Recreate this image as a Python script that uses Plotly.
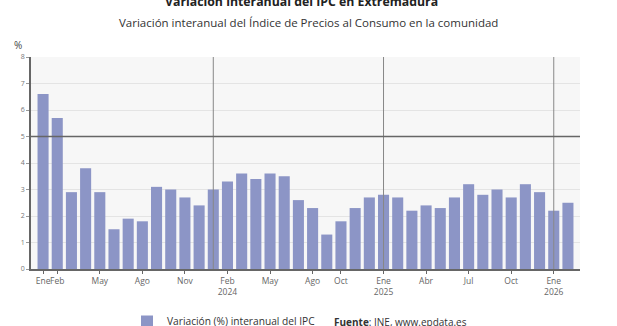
import plotly.graph_objects as go

months = ["Ene","Feb","Mar","Abr","May","Jun","Jul","Ago","Sep","Oct","Nov","Dic"]
years = [2023, 2024, 2025, 2026]
values = [6.6, 5.7, 2.9, 3.8, 2.9, 1.5, 1.9, 1.8, 3.1, 3.0, 2.7, 2.4,
          3.0, 3.3, 3.6, 3.4, 3.6, 3.5, 2.6, 2.3, 1.3, 1.8, 2.3, 2.7,
          2.8, 2.7, 2.2, 2.4, 2.3, 2.7, 3.2, 2.8, 3.0, 2.7, 3.2, 2.9,
          2.2, 2.5]
labels = [f"{months[i % 12]} {years[i // 12]}" for i in range(len(values))]
tick_idx = [0, 1, 4, 7, 10, 13, 16, 19, 21, 24, 27, 30, 33, 36]
tick_text = ["Ene", "Feb", "May", "Ago", "Nov", "Feb<br>2024", "May", "Ago", "Oct",
             "Ene<br>2025", "Abr", "Jul", "Oct", "Ene<br>2026"]
year_breaks = [12, 24, 36]
ref_level = 5
ymax = 8

# plot area in pixels
L, R, T, B = 31, 580, 57, 269
W, H = R - L, B - T
def px(xp): return (xp - L) / W
def py(yp): return (B - yp) / H

x = list(range(len(values)))
fig = go.Figure()
fig.add_trace(go.Bar(x=x, y=values, name="Variación (%) interanual del IPC",
                     marker=dict(color="#8c95c6", line=dict(width=0)),
                     width=0.78, hovertext=labels, showlegend=True))

for b in year_breaks:
    fig.add_shape(type="line", xref="x", yref="paper", x0=b, x1=b, y0=0, y1=1,
                  line=dict(color="#888888", width=1), layer="above")
fig.add_shape(type="line", xref="paper", yref="y", x0=0, x1=1, y0=ref_level, y1=ref_level,
              line=dict(color="#666666", width=1.3), layer="above")

font = "Open Sans"
fig.update_layout(
    width=617, height=326,
    margin=dict(l=L, r=617 - R, t=T, b=326 - B, autoexpand=False),
    paper_bgcolor="white", plot_bgcolor="#f7f7f7",
    font=dict(family=font, color="#666666"),
    showlegend=True,
    legend=dict(orientation="h", xref="paper", x=px(127), xanchor="left",
                yref="container", y=1 - 307/326, yanchor="top",
                font=dict(size=10.2, color="#333333"), bgcolor="rgba(0,0,0,0)"),
    xaxis=dict(range=[-0.85, len(values) - 0.15], tickvals=tick_idx, ticktext=tick_text,
               tickfont=dict(size=8.5, color="#666666"), showgrid=False, tickangle=0,
               automargin=False,
               showline=True, linecolor="#666666", linewidth=1.5,
               ticks="outside", ticklen=3, tickcolor="#666666", zeroline=False),
    yaxis=dict(range=[0, ymax], dtick=1, tickfont=dict(size=7, color="#777777"),
               showgrid=True, gridcolor="#e4e4e4", gridwidth=1, automargin=False,
               showline=True, linecolor="#666666", linewidth=1.5,
               ticks="outside", ticklen=3, tickcolor="#999999", zeroline=False),
    annotations=[
        dict(text="<b>Variación interanual del IPC en Extremadura</b>", xref="paper", yref="paper",
             x=px(301), y=py(2), xanchor="center", yanchor="middle", showarrow=False,
             font=dict(size=12.3, color="#222222", family=font)),
        dict(text="Variación interanual del Índice de Precios al Consumo en la comunidad",
             xref="paper", yref="paper", x=px(308), y=py(22), xanchor="center", yanchor="middle",
             showarrow=False, font=dict(size=11.5, color="#333333", family=font)),
        dict(text="%", xref="paper", yref="paper", x=px(12), y=py(45), xanchor="left", yanchor="middle",
             showarrow=False, font=dict(size=10, color="#444444", family=font)),
        dict(text="<b>Fuente</b>: INE, www.epdata.es", xref="paper", yref="paper",
             x=px(332), y=py(322), xanchor="left", yanchor="middle", showarrow=False,
             font=dict(size=10, color="#333333", family=font)),
    ],
)

fig.write_html("out.html")
